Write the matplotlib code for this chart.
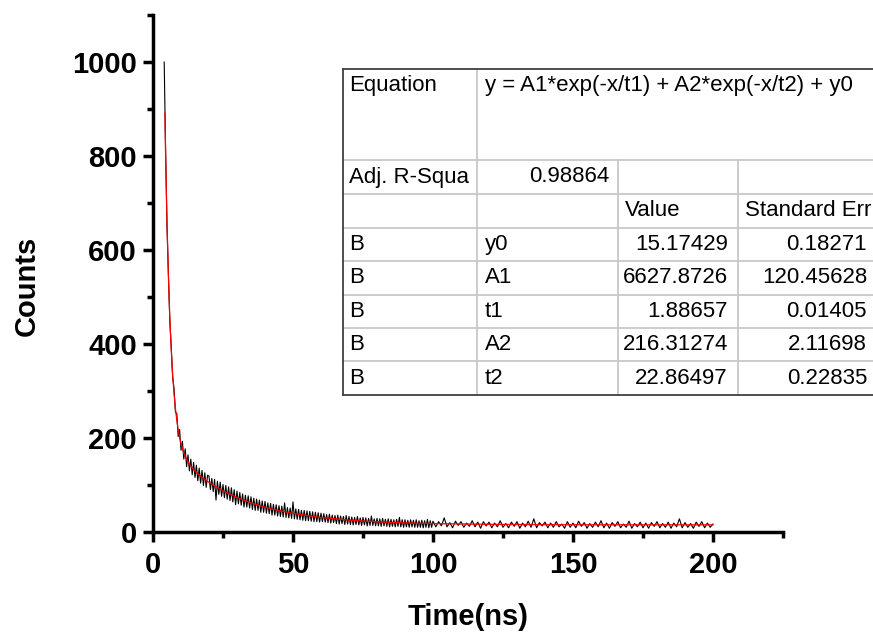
import numpy as np
import matplotlib
matplotlib.use("Agg")
import matplotlib.pyplot as plt
from matplotlib.lines import Line2D
from matplotlib.patches import Rectangle

plt.rcParams['font.family'] = ['Liberation Sans', 'DejaVu Sans']

# measured decay (counts): 0.5 ns steps up to 100 ns, then 1 ns steps
time_early = np.arange(4, 100, 0.5)
counts_early = [1000, 812, 650, 552, 449, 396, 330, 306,
                255, 252, 203, 218, 174, 193, 155, 177,
                139, 164, 130, 155, 122, 148, 116, 142,
                109, 136, 104, 131, 99, 126, 95, 121,
                119, 90, 114, 86, 112, 68, 108, 80, 106, 76,
                101, 73, 99, 70, 96, 67, 94, 64, 90, 58,
                87, 60, 84, 57, 81, 53, 78, 53, 77, 51,
                75, 48, 72, 46, 70, 46, 68, 42, 66, 42,
                65, 40, 62, 39, 61, 36, 59, 36, 58, 34,
                56, 33, 55, 32, 62, 31, 52, 30, 51, 29,
                64, 28, 49, 27, 48, 26, 46, 25, 46, 24,
                45, 24, 44, 23, 43, 22, 42, 22, 41, 21,
                40, 22, 39, 21, 37, 20, 38, 19, 36, 20,
                35, 18, 36, 17, 34, 18, 33, 16, 35, 17,
                33, 16, 32, 15, 31, 16, 33, 15, 30, 14,
                31, 15, 30, 13, 29, 14, 34, 14, 28, 13,
                29, 13, 28, 12, 29, 13, 27, 12, 28, 11,
                27, 12, 26, 11, 27, 12, 31, 11, 26, 10,
                26, 11, 25, 10, 26, 11, 25, 10, 26, 10,
                24, 10, 25, 9, 24, 10, 27, 9, 24, 10]
time_late = np.arange(100, 201, 1)
counts_late = [23, 11, 22, 13, 30, 11, 20, 9, 23, 14,
               22, 10, 19, 12, 24, 11, 21, 8, 22, 13,
               21, 9, 19, 11, 24, 10, 18, 9, 21, 12,
               22, 8, 19, 11, 23, 10, 28, 9, 20, 13,
               21, 9, 19, 10, 22, 11, 17, 8, 22, 10,
               19, 9, 23, 12, 20, 8, 18, 10, 21, 11,
               24, 9, 19, 8, 20, 12, 22, 9, 17, 10,
               23, 8, 18, 11, 21, 9, 19, 8, 20, 12,
               22, 9, 18, 10, 21, 8, 19, 11, 28, 9,
               20, 10, 18, 8, 21, 12, 22, 9, 19, 10,
               17]

# fitted curve
fit_time = [4.25, 4.5, 5, 5.5, 6, 6.5, 7, 7.5, 8, 8.5, 9, 9.5, 10,
            11, 12, 13, 14, 15, 16, 18, 20, 22, 25, 28, 30, 35, 40,
            45, 50, 60, 70, 80, 90, 100, 120, 140, 160, 180, 200]
fit_counts = [891, 804, 657, 545, 457, 389, 337, 296, 263, 238, 217, 201, 188,
              168, 155, 144, 136.5, 130, 124, 114, 105.6, 97.9, 87.7, 78.8, 73.5, 62.0, 52.8,
              45.4, 39.5, 30.9, 25.3, 21.7, 19.4, 17.9, 16.3, 15.6, 15.4, 15.3, 15.2]

# fit report table
equation = "y = A1*exp(-x/t1) + A2*exp(-x/t2) + y0"
adj_r2 = "0.98864"
param_names = ["y0", "A1", "t1", "A2", "t2"]
param_values = ["15.17429", "6627.8726", "1.88657", "216.31274", "22.86497"]
param_errors = ["0.18271", "120.45628", "0.01405", "2.11698", "0.22835"]

W, H = 873, 633
fig = plt.figure(figsize=(W / 100, H / 100), dpi=100)
ax = fig.add_axes([153 / W, 1 - 532 / H, 630 / W, 517 / H])

time = np.concatenate([time_early, time_late])
counts = np.array(counts_early + counts_late)
ax.plot(time, counts, color='black', lw=0.8)
ax.plot(fit_time, fit_counts, color='red', lw=0.9)

ax.set_xlim(0, 225)
ax.set_ylim(0, 1100)
ax.set_xticks(np.arange(0, 201, 50))
ax.set_xticks(np.arange(25, 226, 50), minor=True)
ax.set_yticks(np.arange(0, 1001, 200))
ax.set_yticks(np.arange(100, 1101, 200), minor=True)
for s in ['top', 'right']:
    ax.spines[s].set_visible(False)
for s in ['left', 'bottom']:
    ax.spines[s].set_linewidth(2.5)
ax.tick_params(which='major', direction='out', length=7.5, width=2.5, labelsize=21, pad=4)
ax.tick_params(which='minor', direction='out', length=4.5, width=2.5)
ax.tick_params(axis='x', which='major', pad=6)
for lab in ax.get_xticklabels() + ax.get_yticklabels():
    lab.set_fontweight('bold')

ax.set_xlabel('Time(ns)', fontsize=21, fontweight='bold')
ax.xaxis.set_label_coords(0.5, -0.137)
ax.set_ylabel('Counts', fontsize=21, fontweight='bold')
ax.yaxis.set_label_coords(-0.178, 0.476)


def fx(x):
    return x / W


def fy(y):
    return 1 - y / H


cols = [343, 477, 618, 738, 880]
rows = [69, 160, 194, 228, 261, 295, 328, 361, 395]
fig.add_artist(Rectangle((fx(cols[0]), fy(rows[-1])), fx(cols[-1]) - fx(cols[0]),
                         fy(rows[0]) - fy(rows[-1]), facecolor='white', edgecolor='none'))

light = '#c8c8c8'
dark = '#404040'
for r in rows[1:-1]:
    fig.add_artist(Line2D([fx(cols[0]), fx(cols[-1])], [fy(r), fy(r)], color=light, lw=1.3))
fig.add_artist(Line2D([fx(cols[1])] * 2, [fy(rows[0]), fy(rows[-1])], color=light, lw=1.3))
for c in cols[2:4]:
    fig.add_artist(Line2D([fx(c)] * 2, [fy(rows[1]), fy(rows[-1])], color=light, lw=1.3))
for r in [rows[0], rows[-1]]:
    fig.add_artist(Line2D([fx(cols[0]), fx(cols[-1])], [fy(r), fy(r)], color=dark, lw=1.3))
fig.add_artist(Line2D([fx(cols[0])] * 2, [fy(rows[0]), fy(rows[-1])], color=dark, lw=1.3))

ts = 16
fig.text(fx(349), fy(85), "Equation", fontsize=ts, va='center')
fig.text(fx(485), fy(85), equation, fontsize=ts, va='center')
fig.text(fx(349), fy(177), "Adj. R-Squa", fontsize=ts, va='center')
fig.text(fx(609), fy(177), adj_r2, fontsize=ts, va='center', ha='right')
fig.text(fx(625), fy(211), "Value", fontsize=ts, va='center')
fig.text(fx(745), fy(211), "Standard Err", fontsize=ts, va='center')
for i in range(len(param_names)):
    yc = (rows[3 + i] + rows[4 + i]) / 2
    fig.text(fx(349), fy(yc), "B", fontsize=ts, va='center')
    fig.text(fx(485), fy(yc), param_names[i], fontsize=ts, va='center')
    fig.text(fx(728), fy(yc), param_values[i], fontsize=ts, va='center', ha='right')
    fig.text(fx(867), fy(yc), param_errors[i], fontsize=ts, va='center', ha='right')

fig.savefig('out.png', dpi=100)
